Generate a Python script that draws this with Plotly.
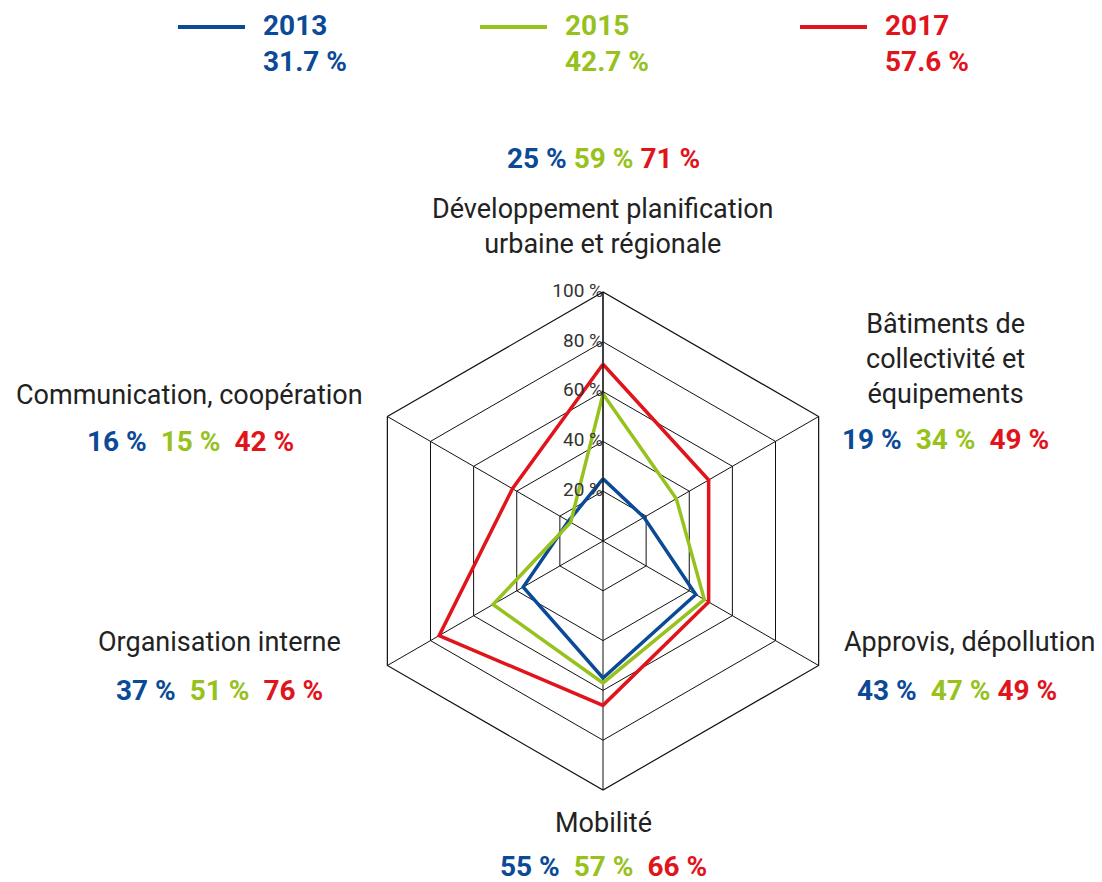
import plotly.graph_objects as go

categories = [
    "Développement planification<br>urbaine et régionale",
    "Bâtiments de<br>collectivité et<br>équipements",
    "Approvis, dépollution",
    "Mobilité",
    "Organisation interne",
    "Communication, coopération",
]
years = ["2013", "2015", "2017"]
averages = ["31.7 %", "42.7 %", "57.6 %"]
values_2013 = [25, 19, 43, 55, 37, 16]
values_2015 = [59, 34, 47, 57, 51, 15]
values_2017 = [71, 49, 49, 66, 76, 42]
radial_ticks = [20, 40, 60, 80, 100]

colors = ["#0b4a96", "#97c21e", "#e1141c"]
series = [values_2013, values_2015, values_2017]

W, H = 1102, 882
cx, cy, R = 603, 541, 249

FONT = "Roboto, 'Open Sans', sans-serif"

fig = go.Figure()
for yr, vals, col in zip(years, series, colors):
    fig.add_trace(go.Scatterpolar(
        r=vals + vals[:1],
        theta=categories + categories[:1],
        mode="lines",
        line=dict(color=col, width=3.5),
        name=yr,
        showlegend=False,
    ))

# radial tick labels drawn on the top spoke
fig.add_trace(go.Scatterpolar(
    r=radial_ticks,
    theta=[categories[0]] * len(radial_ticks),
    mode="text",
    text=[f"{v} %" for v in radial_ticks],
    textposition="middle left",
    textfont=dict(size=19, color="#333", family=FONT),
    showlegend=False,
    hoverinfo="skip",
    cliponaxis=False,
))

fig.update_layout(
    width=W, height=H,
    margin=dict(l=0, r=0, t=0, b=0),
    paper_bgcolor="white",
    plot_bgcolor="white",
    font=dict(family=FONT, color="#222222"),
    polar=dict(
        domain=dict(x=[(cx - R) / W, (cx + R) / W],
                    y=[(H - cy - R) / H, (H - cy + R) / H]),
        gridshape="linear",
        bgcolor="white",
        angularaxis=dict(
            direction="clockwise", rotation=90,
            showticklabels=False, ticks="",
            linecolor="#111", linewidth=1.2,
            gridcolor="#111", gridwidth=1.2,
            showline=True,
        ),
        radialaxis=dict(
            range=[0, 100], tickvals=radial_ticks,
            angle=90, showticklabels=False,
            showline=True, linecolor="#111", linewidth=1.2,
            gridcolor="#111", gridwidth=1.2,
            ticks="",
        ),
    ),
)

def px(x):
    return x / W

def py(y):
    return 1 - y / H

label_pos = [
    (603, 226),
    (945, 359),
    (969, 642),
    (603, 823),
    (220, 642),
    (189, 395),
]
value_pos = [
    (603, 158),
    (945, 439),
    (957, 690),
    (603, 866),
    (220, 690),
    (190, 441),
]
seps = [
    [" ", " "],
    ["  ", "  "],
    ["  ", " "],
    ["  ", "  "],
    ["  ", "  "],
    ["  ", "  "],
]

for i, cat in enumerate(categories):
    x, y = label_pos[i]
    fig.add_annotation(
        x=px(x), y=py(y), xref="paper", yref="paper",
        text=cat, showarrow=False, xanchor="center", yanchor="middle",
        font=dict(size=27, color="#222", family=FONT, lineposition="none"),
        align="center",
    )
    parts = []
    for vals, col in zip(series, colors):
        parts.append(f"<span style='color:{col}'>{vals[i]} %</span>")
    txt = parts[0] + seps[i][0] + parts[1] + seps[i][1] + parts[2]
    txt = txt.replace("  ", "&nbsp; ")
    x, y = value_pos[i]
    fig.add_annotation(
        x=px(x), y=py(y), xref="paper", yref="paper",
        text="<b>" + txt + "</b>", showarrow=False,
        xanchor="center", yanchor="middle",
        font=dict(size=28, family=FONT),
    )

legend_x = [178, 480, 800]
for yr, avg, col, lx in zip(years, averages, colors, legend_x):
    fig.add_shape(type="line", xref="paper", yref="paper",
                  x0=px(lx), x1=px(lx + 67), y0=py(27), y1=py(27),
                  line=dict(color=col, width=4))
    fig.add_annotation(
        x=px(lx + 83), y=py(44), xref="paper", yref="paper",
        text=f"<b>{yr}<br>{avg}</b>", showarrow=False,
        xanchor="left", yanchor="middle", align="left",
        font=dict(size=28, color=col, family=FONT),
    )

fig.write_html("out.html")
